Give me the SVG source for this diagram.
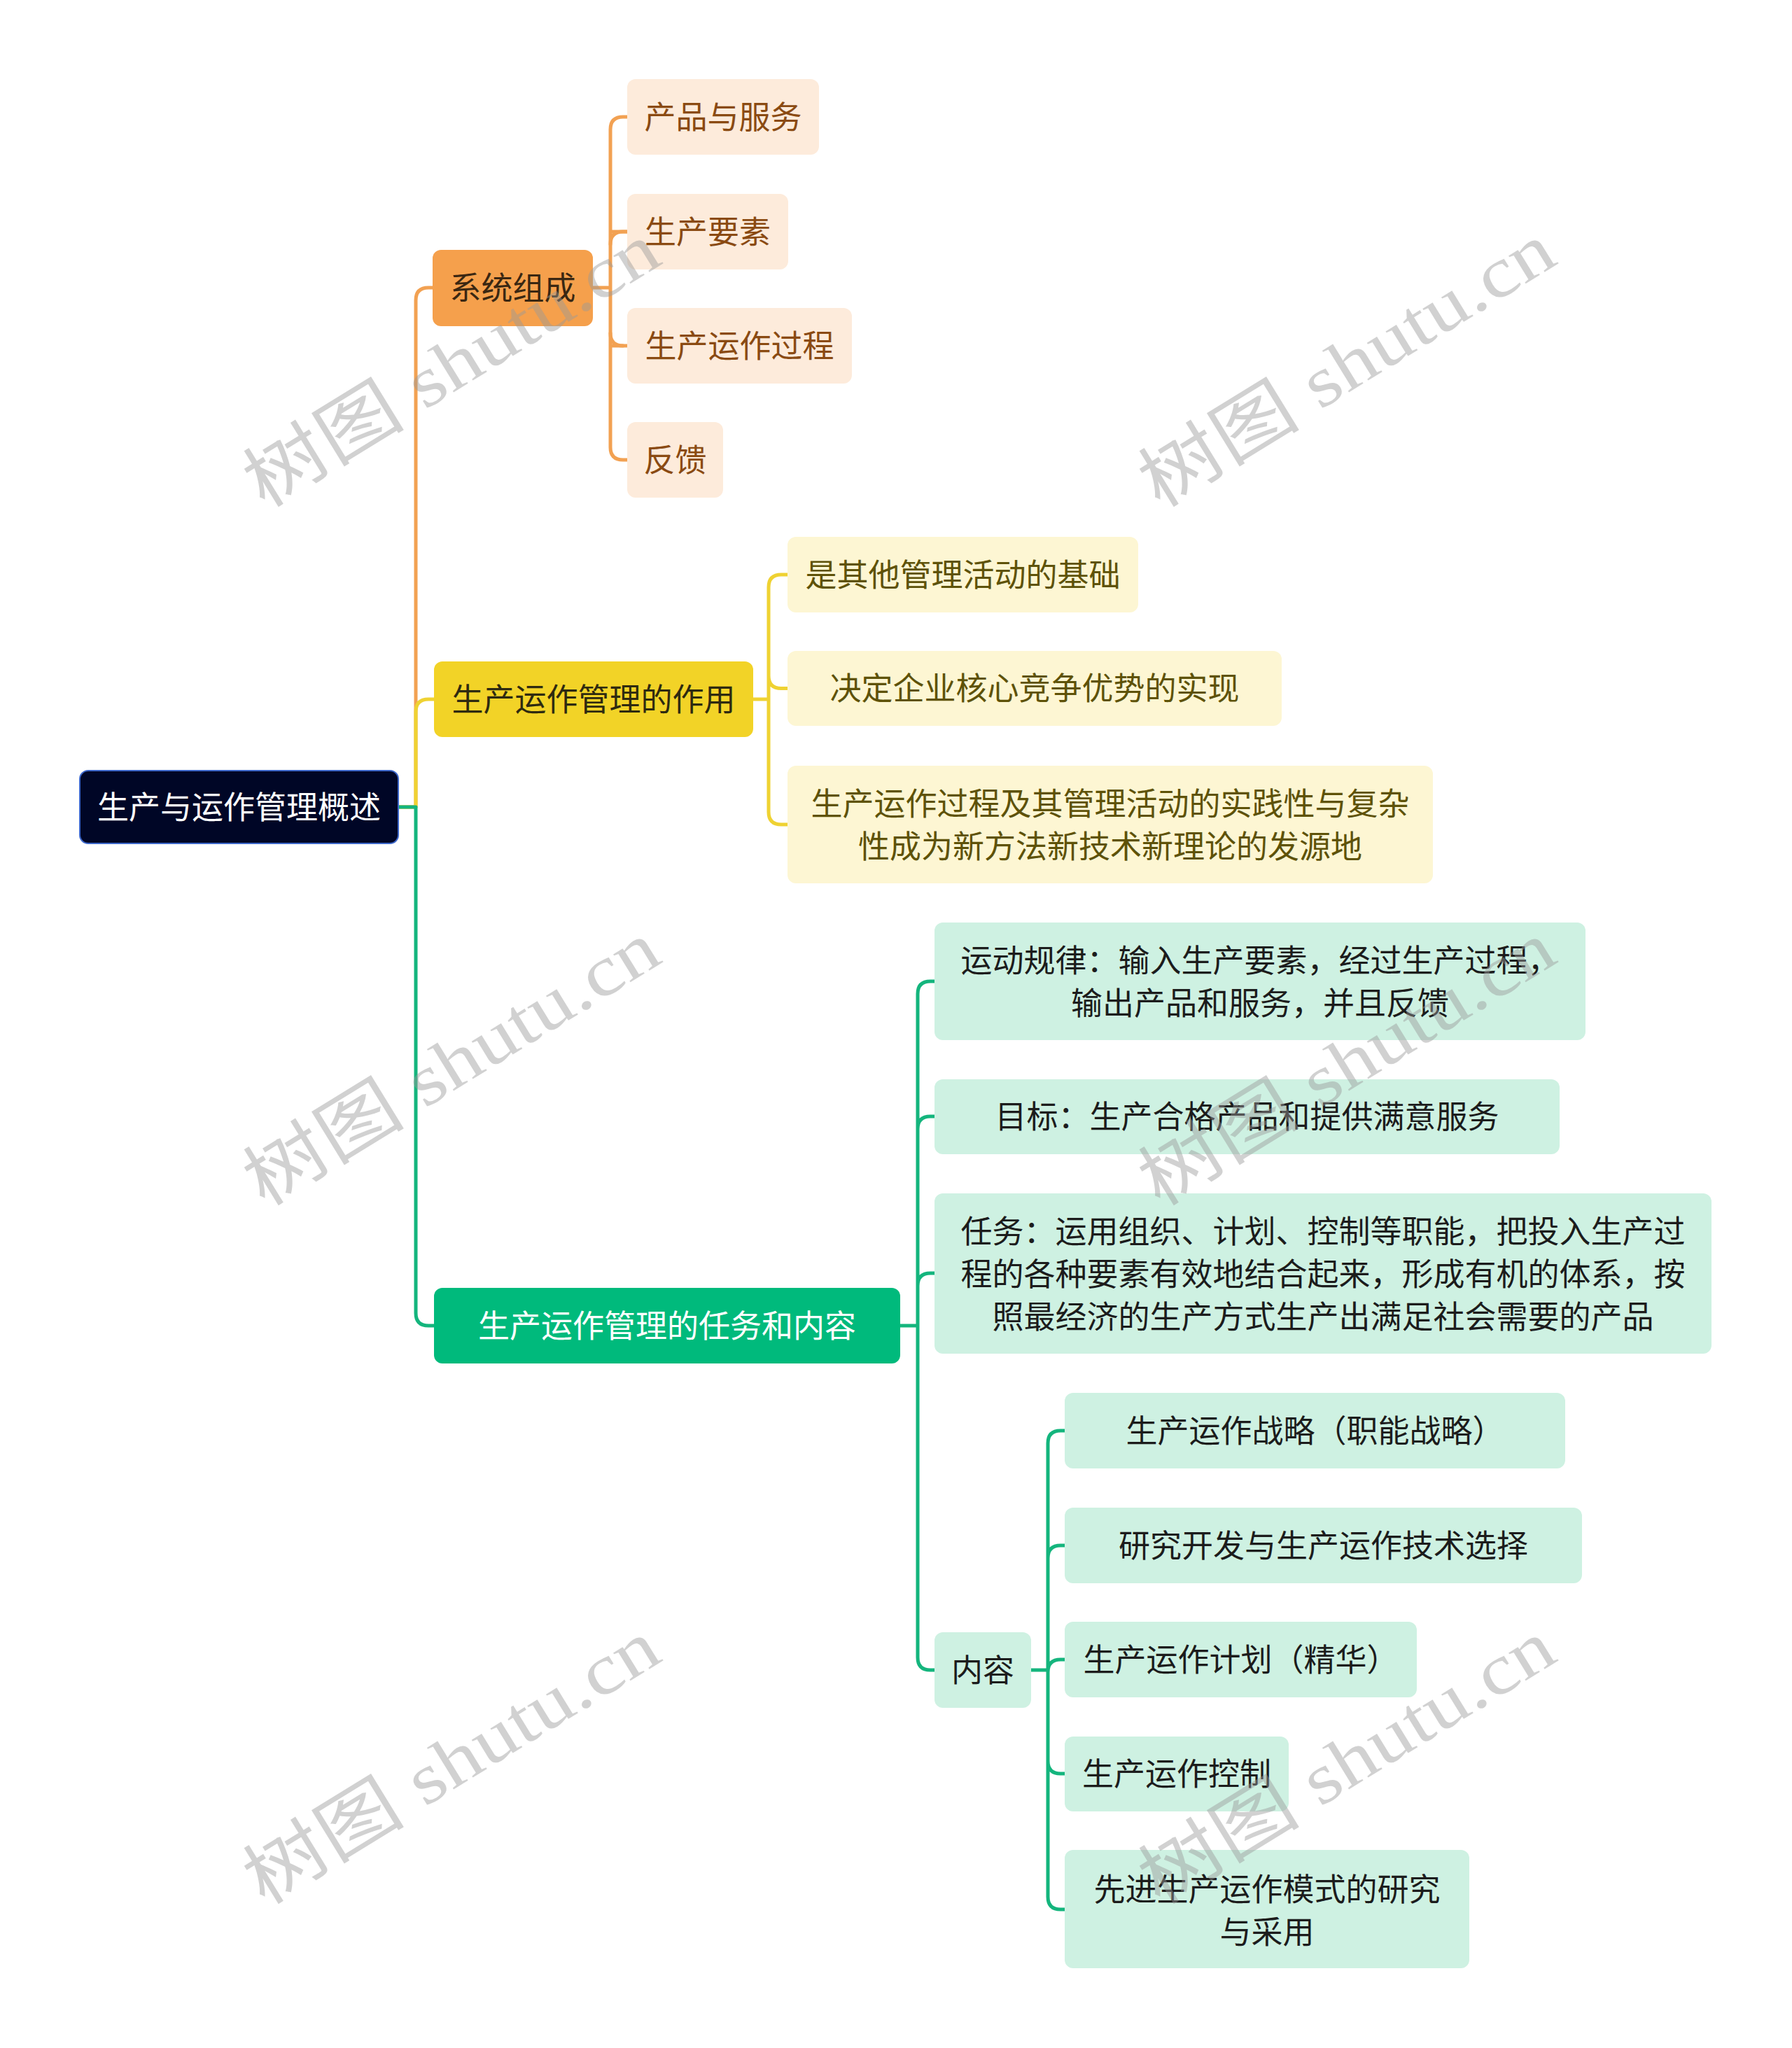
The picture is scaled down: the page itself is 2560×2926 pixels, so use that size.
<svg xmlns="http://www.w3.org/2000/svg" width="2560" height="2926" viewBox="0 0 2560 2926">
<style>
text{font-family:"Noto Sans CJK SC","Noto Sans",sans-serif;font-size:45px;text-anchor:middle;dominant-baseline:central}
.c{fill:none;stroke-width:5;stroke-linecap:round;stroke-linejoin:round}
.co{stroke:#F2A152}.cy{stroke:#EFD232}.cg{stroke:#14B57D}
.root{fill:#000626;stroke:#3C66C9;stroke-width:2}
.mo{fill:#F5A04C}.my{fill:#F2D327}.mg{fill:#00BA7C}
.lo{fill:#FDEBDB}.ly{fill:#FDF6D3}.lg{fill:#CEF1E2}
.to{fill:#3A2712}.ty{fill:#2E2A10}.tw{fill:#FFFFFF}
.tlo{fill:#8A4A12}.tly{fill:#5E5208}.tlg{fill:#1C1C1C}
.wm{font-family:"Liberation Serif","Noto Sans CJK SC",serif;font-size:102px;fill:#9a9a9a;fill-opacity:0.45}
</style>
<g id="connectors">
<path class="c co" d="M569,1153 H594 V429 Q594,411 612,411 H618"/>
<path class="c cy" d="M569,1153 H594 V1017 Q594,999 612,999 H620"/>
<path class="c cg" d="M569,1153 H594 V1876 Q594,1894 612,1894 H620"/>
<path class="c co" d="M847,411 H872 M896,167 H890 Q872,167 872,185 V639 Q872,657 890,657 H896 M872,331 Q872,331 896,331 M872,494 H896"/>
<path class="c co" d="M872,349 Q872,331 890,331 H896 M872,476 Q872,494 890,494"/>
<path class="c cy" d="M1076,999 H1098 M1125,821 H1116 Q1098,821 1098,839 V1160 Q1098,1178 1116,1178 H1125 M1098,965.5 Q1098,983.5 1116,983.5 H1125"/>
<path class="c cg" d="M1286,1894 H1311 M1335,1402 H1329 Q1311,1402 1311,1420 V2368 Q1311,2386 1329,2386 H1335 M1311,1613 Q1311,1595 1329,1595 H1335 M1311,1837 Q1311,1819 1329,1819 H1335"/>
<path class="c cg" d="M1473,2386 H1497 M1521,2044 H1515 Q1497,2044 1497,2062 V2710 Q1497,2728 1515,2728 H1521 M1497,2226 Q1497,2208 1515,2208 H1521 M1497,2389 Q1497,2371 1515,2371 H1521 M1497,2516 Q1497,2534 1515,2534 H1521"/>
</g>
<g id="root"><rect class="root" x="114" y="1101" width="455" height="104" rx="12"/><text class="tw" x="341.5" y="1150">生产与运作管理概述</text></g>
<g id="n-xitong"><rect class="mo" x="618" y="357" width="229" height="109" rx="12"/><text class="to" x="732.5" y="408.5">系统组成</text></g>
<g id="n-chanpin"><rect class="lo" x="896" y="113" width="274" height="108" rx="12"/><text class="tlo" x="1033" y="164">产品与服务</text></g>
<g id="n-yaosu"><rect class="lo" x="896" y="277" width="230" height="108" rx="12"/><text class="tlo" x="1011" y="328">生产要素</text></g>
<g id="n-guocheng"><rect class="lo" x="896" y="440" width="321" height="108" rx="12"/><text class="tlo" x="1056.5" y="491">生产运作过程</text></g>
<g id="n-fankui"><rect class="lo" x="896" y="603" width="137" height="108" rx="12"/><text class="tlo" x="964.5" y="654">反馈</text></g>
<g id="n-zuoyong"><rect class="my" x="620" y="945" width="456" height="108" rx="12"/><text class="ty" x="848" y="996">生产运作管理的作用</text></g>
<g id="n-jichu"><rect class="ly" x="1125" y="767" width="501" height="108" rx="12"/><text class="tly" x="1375.5" y="818">是其他管理活动的基础</text></g>
<g id="n-hexin"><rect class="ly" x="1125" y="930" width="706" height="107" rx="12"/><text class="tly" x="1478" y="980.5">决定企业核心竞争优势的实现</text></g>
<g id="n-fayuan"><rect class="ly" x="1125" y="1094" width="922" height="168" rx="12"/><text class="tly" x="1586" y="1145">生产运作过程及其管理活动的实践性与复杂</text><text class="tly" x="1586" y="1206">性成为新方法新技术新理论的发源地</text></g>
<g id="n-renwu-neirong"><rect class="mg" x="620" y="1840" width="666" height="108" rx="12"/><text class="tw" x="953" y="1891">生产运作管理的任务和内容</text></g>
<g id="n-guilv"><rect class="lg" x="1335" y="1318" width="930" height="168" rx="12"/><text class="tlg" x="1800" y="1369">运动规律：输入生产要素，经过生产过程，</text><text class="tlg" x="1800" y="1430">输出产品和服务，并且反馈</text></g>
<g id="n-mubiao"><rect class="lg" x="1335" y="1542" width="893" height="107" rx="12"/><text class="tlg" x="1781.5" y="1592.5">目标：生产合格产品和提供满意服务</text></g>
<g id="n-renwu"><rect class="lg" x="1335" y="1705" width="1110" height="229" rx="12"/><text class="tlg" x="1890" y="1756">任务：运用组织、计划、控制等职能，把投入生产过</text><text class="tlg" x="1890" y="1817">程的各种要素有效地结合起来，形成有机的体系，按</text><text class="tlg" x="1890" y="1878">照最经济的生产方式生产出满足社会需要的产品</text></g>
<g id="n-neirong"><rect class="lg" x="1335" y="2332" width="138" height="108" rx="12"/><text class="tlg" x="1404" y="2383">内容</text></g>
<g id="n-zhanlue"><rect class="lg" x="1521" y="1990" width="715" height="108" rx="12"/><text class="tlg" x="1878.5" y="2041">生产运作战略（职能战略）</text></g>
<g id="n-yanjiu"><rect class="lg" x="1521" y="2154" width="739" height="108" rx="12"/><text class="tlg" x="1890.5" y="2205">研究开发与生产运作技术选择</text></g>
<g id="n-jihua"><rect class="lg" x="1521" y="2317" width="503" height="108" rx="12"/><text class="tlg" x="1772.5" y="2368">生产运作计划（精华）</text></g>
<g id="n-kongzhi"><rect class="lg" x="1521" y="2481" width="320" height="107" rx="12"/><text class="tlg" x="1681" y="2531.5">生产运作控制</text></g>
<g id="n-moshi"><rect class="lg" x="1521" y="2643" width="578" height="169" rx="12"/><text class="tlg" x="1810" y="2696">先进生产运作模式的研究</text><text class="tlg" x="1810" y="2757">与采用</text></g>
<g id="watermarks">
<text class="wm" x="0" y="0" textLength="672" lengthAdjust="spacingAndGlyphs" transform="translate(645,522) rotate(-31.6)">树图 shutu.cn</text>
<text class="wm" x="0" y="0" textLength="672" lengthAdjust="spacingAndGlyphs" transform="translate(1924,522) rotate(-31.6)">树图 shutu.cn</text>
<text class="wm" x="0" y="0" textLength="672" lengthAdjust="spacingAndGlyphs" transform="translate(645,1520) rotate(-31.6)">树图 shutu.cn</text>
<text class="wm" x="0" y="0" textLength="672" lengthAdjust="spacingAndGlyphs" transform="translate(1924,1520) rotate(-31.6)">树图 shutu.cn</text>
<text class="wm" x="0" y="0" textLength="672" lengthAdjust="spacingAndGlyphs" transform="translate(645,2518) rotate(-31.6)">树图 shutu.cn</text>
<text class="wm" x="0" y="0" textLength="672" lengthAdjust="spacingAndGlyphs" transform="translate(1924,2518) rotate(-31.6)">树图 shutu.cn</text>
</g>
</svg>
